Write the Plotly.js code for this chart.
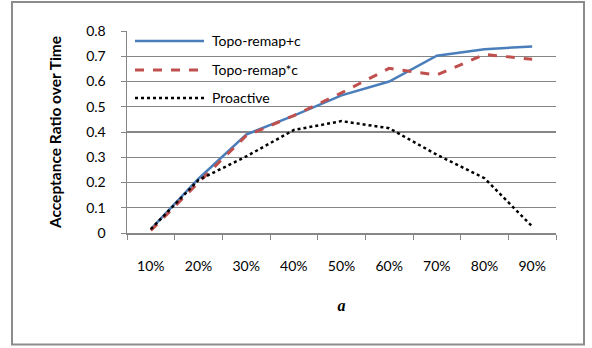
<!DOCTYPE html>
<html><head><meta charset="utf-8">
<script src="https://cdn.plot.ly/plotly-3.0.1.min.js"></script>
<style>html,body{margin:0;padding:0;background:#fff}#chart{width:592px;height:348px}</style>
</head><body><div id="chart"></div>
<script>
var categories = ["10%","20%","30%","40%","50%","60%","70%","80%","90%"];
var topoPlus = [0.015,0.215,0.39,0.465,0.545,0.6,0.702,0.728,0.739];
var topoStar = [0.01,0.2,0.385,0.465,0.555,0.652,0.626,0.707,0.688];
var proactive = [0.015,0.21,0.303,0.408,0.443,0.415,0.31,0.217,0.026];
var seriesNames = ["Topo-remap+c","Topo-remap*c","Proactive"];
var yTicks = [0,0.1,0.2,0.3,0.4,0.5,0.6,0.7,0.8];
var yTickText = ["0","0.1","0.2","0.3","0.4","0.5","0.6","0.7","0.8"];

var colors = ["#4a7ebb","#c0504d","#000000"];
var dashes = ["solid","dash","dot"];
var widths = [2.5,3,2.5];
var data = [topoPlus, topoStar, proactive].map(function(v,i){
  return {x:categories, y:v, type:"scatter", mode:"lines", name:seriesNames[i],
    line:{color:colors[i], dash:dashes[i], width:widths[i]}, showlegend:false};
});

var font = "Lato, 'Open Sans', sans-serif";
var W = 429, H = 202.3, L = 127, B = 233.3;
function px(x){return (x-L)/W;}
function py(y){return (B-y)/H;}
var shapes = [
  {type:"rect", xref:"paper", yref:"paper", x0:px(12), x1:px(584), y0:py(2), y1:py(345),
   line:{color:"#8c8c8c", width:2}, fillcolor:"rgba(0,0,0,0)", layer:"below"}
];
var annotations = [];
var legY = [41,70,98];
for (var i=0;i<3;i++){
  shapes.push({type:"line", xref:"paper", yref:"paper", x0:px(135), x1:px(204), y0:py(legY[i]), y1:py(legY[i]),
    line:{color:colors[i], dash:dashes[i], width:widths[i]}});
  annotations.push({xref:"paper", yref:"paper", x:px(210), y:py(legY[i]), xanchor:"left", yanchor:"middle",
    text:seriesNames[i], showarrow:false, font:{family:font, size:14, color:"#000"}});
}

var layout = {
  width:592, height:348,
  margin:{l:127, r:36, t:31, b:115},
  paper_bgcolor:"#fff", plot_bgcolor:"#fff",
  font:{family:font, size:14, color:"#000"},
  xaxis:{type:"category", range:[-0.5,8.5], tickson:"boundaries", ticks:"outside", ticklen:5, tickcolor:"#868686",
    showline:true, linecolor:"#868686", linewidth:1.5, showgrid:false, zeroline:false,
    ticklabelstandoff:20, tickfont:{family:font, size:14, color:"#000"},
    title:{text:"<b><i>a</i></b>", font:{family:"'Liberation Serif', 'DejaVu Serif', serif", size:16, color:"#000"}, standoff:26}},
  yaxis:{range:[0,0.8], tickvals:yTicks, ticktext:yTickText, ticks:"outside", ticklen:5, tickcolor:"#868686",
    showline:true, linecolor:"#868686", linewidth:1.5, gridcolor:"#868686", gridwidth:1.2, zeroline:false,
    ticklabelstandoff:12, tickfont:{family:font, size:14, color:"#000"},
    title:{text:"<b>Acceptance Ratio over Time</b>", font:{family:font, size:15.5, color:"#000"}, standoff:20}},
  shapes:shapes, annotations:annotations, showlegend:false
};
Plotly.newPlot("chart", data, layout, {displayModeBar:false, staticPlot:true});
</script></body></html>
